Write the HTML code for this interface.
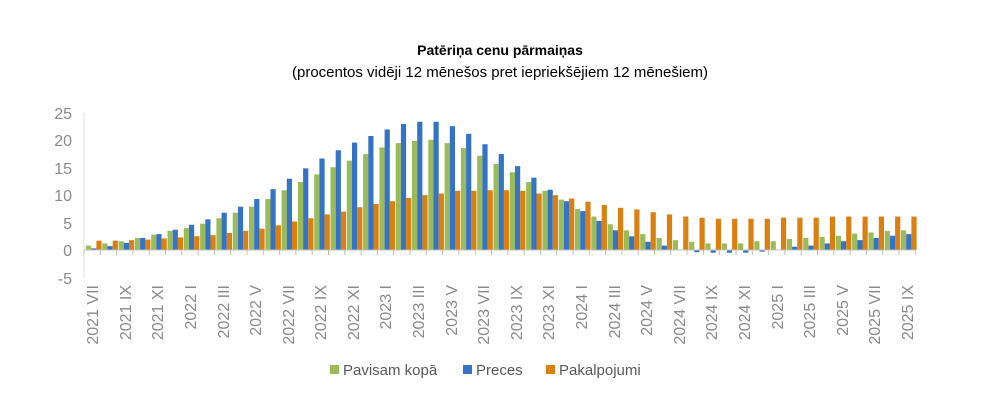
<!DOCTYPE html>
<html><head><meta charset="utf-8"><style>
body{margin:0;background:#fff;width:1000px;height:404px;overflow:hidden;font-family:"Liberation Sans",sans-serif}
</style></head><body>
<svg id="s" width="1000" height="404" xmlns="http://www.w3.org/2000/svg" font-family="Liberation Sans, sans-serif">
<text x="500" y="55" text-anchor="middle" font-size="14" font-weight="bold" fill="#000">Patēriņa cenu pārmaiņas</text>
<text x="500" y="77" text-anchor="middle" font-size="15" fill="#000">(procentos vidēji 12 mēnešos pret iepriekšējiem 12 mēnešiem)</text>
<g font-size="16" fill="#8a8a8a" text-anchor="end">
<text x="72" y="119">25</text><text x="72" y="146">20</text><text x="72" y="174">15</text><text x="72" y="201">10</text><text x="72" y="229">5</text><text x="72" y="256">0</text><text x="72" y="284">-5</text>
</g>
<line x1="84" y1="113" x2="84" y2="277" stroke="#e0e0e0"/>
<g id="bars"></g>
<g id="ticks" stroke="#bfbfbf"></g>
<g font-size="16" fill="#8a8a8a" text-anchor="end" id="lab">
<text transform="translate(98,285) rotate(-90)">2021 VII</text>
<text transform="translate(131,285) rotate(-90)">2021 IX</text>
<text transform="translate(163,285) rotate(-90)">2021 XI</text>
<text transform="translate(196,285) rotate(-90)">2022 I</text>
<text transform="translate(229,285) rotate(-90)">2022 III</text>
<text transform="translate(261,285) rotate(-90)">2022 V</text>
<text transform="translate(294,285) rotate(-90)">2022 VII</text>
<text transform="translate(326,285) rotate(-90)">2022 IX</text>
<text transform="translate(359,285) rotate(-90)">2022 XI</text>
<text transform="translate(391,285) rotate(-90)">2023 I</text>
<text transform="translate(424,285) rotate(-90)">2023 III</text>
<text transform="translate(457,285) rotate(-90)">2023 V</text>
<text transform="translate(489,285) rotate(-90)">2023 VII</text>
<text transform="translate(522,285) rotate(-90)">2023 IX</text>
<text transform="translate(554,285) rotate(-90)">2023 XI</text>
<text transform="translate(587,285) rotate(-90)">2024 I</text>
<text transform="translate(620,285) rotate(-90)">2024 III</text>
<text transform="translate(652,285) rotate(-90)">2024 V</text>
<text transform="translate(685,285) rotate(-90)">2024 VII</text>
<text transform="translate(717,285) rotate(-90)">2024 IX</text>
<text transform="translate(750,285) rotate(-90)">2024 XI</text>
<text transform="translate(783,285) rotate(-90)">2025 I</text>
<text transform="translate(815,285) rotate(-90)">2025 III</text>
<text transform="translate(848,285) rotate(-90)">2025 V</text>
<text transform="translate(880,285) rotate(-90)">2025 VII</text>
<text transform="translate(913,285) rotate(-90)">2025 IX</text>
</g>
<g font-size="15" fill="#595959">
<rect x="330" y="365" width="9" height="9" fill="#9bbb59"/><text x="343" y="375">Pavisam kopā</text>
<rect x="463" y="365" width="9" height="9" fill="#3473c5"/><text x="476" y="375">Preces</text>
<rect x="546" y="365" width="9" height="9" fill="#d98010"/><text x="559" y="375">Pakalpojumi</text>
</g>
</svg>
<script>
var g=[0.8,1.2,1.6,2.2,2.8,3.5,4.0,4.8,5.8,6.8,7.9,9.3,10.9,12.4,13.8,15.1,16.3,17.5,18.7,19.5,19.9,20.1,19.5,18.6,17.2,15.7,14.2,12.4,10.8,9.2,7.5,6.1,4.7,3.6,2.9,2.2,1.8,1.5,1.2,1.2,1.2,1.6,1.6,2.0,2.2,2.4,2.6,3.0,3.2,3.5,3.6];
var b=[0.3,0.7,1.3,2.2,2.9,3.7,4.6,5.6,6.8,7.9,9.3,11.1,13.0,14.9,16.7,18.2,19.6,20.8,22.0,23.0,23.4,23.4,22.6,21.2,19.3,17.5,15.3,13.2,11.0,8.9,7.1,5.3,3.6,2.5,1.5,0.8,0.05,-0.4,-0.5,-0.5,-0.5,-0.3,0.05,0.6,0.8,1.2,1.6,1.8,2.2,2.6,2.9];
var o=[1.7,1.7,1.8,1.9,2.1,2.3,2.5,2.7,3.1,3.5,3.9,4.5,5.2,5.8,6.5,7.0,7.8,8.4,8.9,9.5,10.0,10.3,10.8,10.8,10.9,10.9,10.8,10.3,10.0,9.4,8.8,8.2,7.7,7.4,6.9,6.5,6.1,5.9,5.7,5.7,5.7,5.7,5.9,5.9,5.9,6.1,6.1,6.1,6.1,6.1,6.1];
var ns="http://www.w3.org/2000/svg",B=document.getElementById("bars"),T=document.getElementById("ticks");
var x0=84,w=16.3,z=250,k=5.48;
function r(x,v,c){var e=document.createElementNS(ns,"rect");var h=Math.abs(v)*k;e.setAttribute("x",x);e.setAttribute("width",5.2);e.setAttribute("y",v>=0?z-h:z);e.setAttribute("height",Math.max(h,0.5));e.setAttribute("fill",c);B.appendChild(e);}
for(var i=0;i<51;i++){var x=x0+w*i;r(x+2,g[i],"#9bbb59");r(x+7.2,b[i],"#3473c5");r(x+12.4,o[i],"#d98010");}
var l=document.createElementNS(ns,"line");l.setAttribute("x1",x0);l.setAttribute("x2",x0+w*51);l.setAttribute("y1",z);l.setAttribute("y2",z);T.appendChild(l);
for(var i=0;i<=51;i++){var t=document.createElementNS(ns,"line");var xx=x0+w*i;t.setAttribute("x1",xx);t.setAttribute("x2",xx);t.setAttribute("y1",z);t.setAttribute("y2",z+5);T.appendChild(t);}
</script>
</body></html>
